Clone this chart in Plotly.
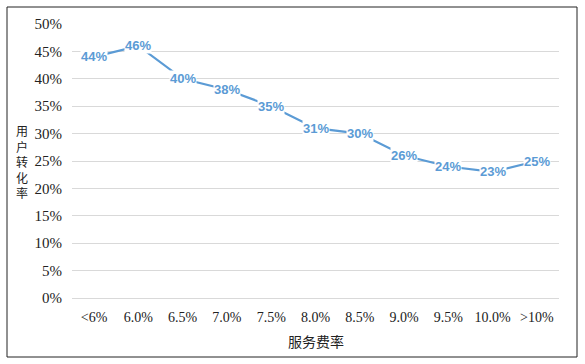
import plotly.graph_objects as go

categories = ["<6%", "6.0%", "6.5%", "7.0%", "7.5%", "8.0%", "8.5%", "9.0%", "9.5%", "10.0%", ">10%"]
conversion = [44, 46, 40, 38, 35, 31, 30, 26, 24, 23, 25]
y_ticks = [0, 5, 10, 15, 20, 25, 30, 35, 40, 45, 50]
y_tick_labels = [f"{v}%" for v in y_ticks]
x_title = "服务费率"
y_title = "用户转化率"

LINE_COLOR = "#5B9BD5"

fig = go.Figure()
fig.add_trace(go.Scatter(
    x=categories, y=conversion, mode="lines",
    line=dict(color=LINE_COLOR, width=2.2),
    hoverinfo="skip", showlegend=False,
))

for c, v in zip(categories, conversion):
    fig.add_annotation(
        x=c, y=v, text=f"<b>{v}%</b>", showarrow=False,
        font=dict(family="Liberation Sans, Arial, sans-serif", size=13, color=LINE_COLOR),
        bgcolor="white", borderpad=0,
    )

L, R, T, B = 72, 26, 24, 66
W, H = 585, 364
pw, ph = W - L - R, H - T - B

# outer border
fig.add_shape(
    type="rect", xref="paper", yref="paper",
    x0=(7 - L) / pw, x1=(577 - L) / pw,
    y0=(H - B - 357) / ph, y1=(H - B - 7) / ph,
    line=dict(color="#222222", width=1), fillcolor="rgba(0,0,0,0)", layer="below",
)

title_font = dict(family="Noto Sans CJK SC, sans-serif", size=14, color="#222222")
# y title (vertical stacked characters)
fig.add_annotation(
    xref="paper", yref="paper",
    x=(22 - L) / pw, y=(H - B - 161) / ph,
    text="<br>".join(list(y_title)), showarrow=False,
    font=dict(family="Noto Sans CJK SC, sans-serif", size=12, color="#222222"),
    xanchor="center", yanchor="middle", borderpad=0,
)
fig.add_annotation(
    xref="paper", yref="paper",
    x=(316 - L) / pw, y=(H - B - 341) / ph,
    text=x_title, showarrow=False, font=title_font,
    xanchor="center", yanchor="middle",
)

fig.update_layout(
    width=W, height=H,
    margin=dict(l=L, r=R, t=T, b=B),
    paper_bgcolor="white", plot_bgcolor="white",
    xaxis=dict(
        type="category", range=[-0.5, len(categories) - 0.5],
        showgrid=False, showline=False, ticks="",
        ticklabelstandoff=9,
        tickfont=dict(family="Liberation Serif, Times New Roman, serif", size=14, color="#222222"),
        fixedrange=True,
    ),
    yaxis=dict(
        range=[0, 50], tickvals=y_ticks, ticktext=y_tick_labels,
        showgrid=True, gridcolor="#D9D9D9", gridwidth=1,
        zeroline=True, zerolinecolor="#D9D9D9", zerolinewidth=1,
        showline=False, ticks="",
        ticklabelstandoff=9,
        tickfont=dict(family="Liberation Serif, Times New Roman, serif", size=15, color="#222222"),
        fixedrange=True,
    ),
)

fig.write_html("out.html", config={"displayModeBar": False},
               post_script="document.body.style.margin='0';")
